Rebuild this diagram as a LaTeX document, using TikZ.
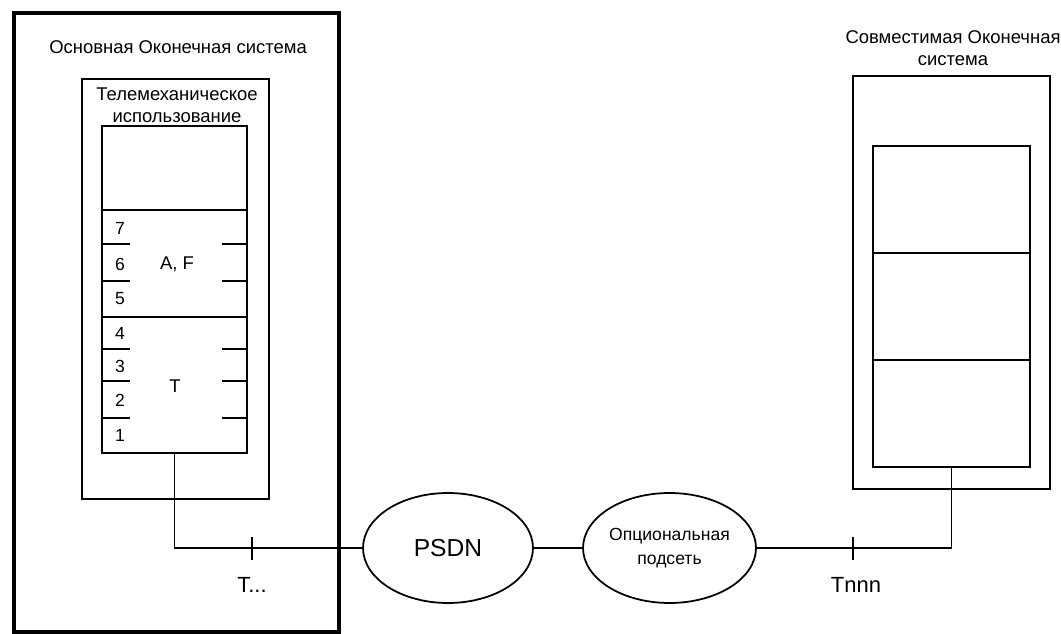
\documentclass[tikz,border=0pt]{standalone}
\usepackage{fontspec}
\setmainfont{Liberation Sans}
\usetikzlibrary{shapes.geometric,positioning,calc}
\tikzset{
  sysbox/.style={
    rectangle,
    draw=black,
    inner sep=0pt,
    outer sep=0pt
  },
  cell/.style={
    rectangle,
    draw=black,
    minimum width=2.9cm,
    inner sep=0pt,
    outer sep=0pt
  },
  net/.style={
    ellipse,
    draw=black,
    inner sep=0pt,
    minimum height=2.2cm
  },
  txt/.style={
    font=\fontsize{10.5}{12.5}\selectfont,
    inner sep=1pt
  },
  num/.style={
    font=\fontsize{10}{12}\selectfont,
    inner sep=1pt
  },
  tlab/.style={
    font=\fontsize{12.5}{14}\selectfont,
    inner sep=1pt
  }
}

\begin{document}
\begin{tikzpicture}[x=0.02cm, y=-0.02cm, line width=1pt]
\useasboundingbox (0,0) rectangle (1061,634);

% --- main end system ---
\node (mainsys) [sysbox, line width=2pt, minimum width=6.5cm, minimum height=12.38cm] at (176.5,322.5) {};
\node (maintitle) [txt] at (178,47) {Основная Оконечная система};
\node (appbox) [sysbox, minimum width=3.74cm, minimum height=8.4cm] at (175.5,289) {};
\node (apptitle) [txt, align=center] at (177,105) {Телемеханическое\\использование};

% --- layer stack ---
\node (appcell) [cell, minimum height=1.68cm] at (174.5,168) {};
\node (afcell) [cell, minimum height=2.14cm, below=0pt of appcell] {};
\node (tcell) [cell, minimum height=2.72cm, below=0pt of afcell] {};
\foreach \n/\y in {7/228,6/264,5/299,4/333,3/366,2/400,1/435}
  \node (layer\n) [num] at (120,\y) {\n};
\foreach \y in {244,281,349,381,418} {
  \draw (102,\y) -- (130,\y);
  \draw (222,\y) -- (247,\y);
}
\node (aflabel) [txt] at (177,264) {A, F};
\node (tlabel) [txt] at (175,386) {T};

% --- networks ---
\node (psdn) [net, minimum width=3.4cm, font=\fontsize{14}{16}\selectfont] at (448,548) {PSDN};
\node (opt) [net, minimum width=3.46cm, align=center, font=\fontsize{10}{13.6}\selectfont] at (669.5,548) {Опциональная\\подсеть};

% --- compatible end system ---
\node (compsys) [sysbox, minimum width=3.94cm, minimum height=8.26cm] at (951.5,282.5) {};
\node (comptitle) [txt, align=center] at (953,48.5) {Совместимая Оконечная\\система};
\node (rcell1) [cell, minimum width=3.14cm, minimum height=2.14cm] at (951.5,199.5) {};
\node (rcell2) [cell, minimum width=3.14cm, minimum height=2.14cm, below=0pt of rcell1] {};
\node (rcell3) [cell, minimum width=3.14cm, minimum height=2.14cm, below=0pt of rcell2] {};

% --- connectors ---
\draw (tcell.south) |- (psdn.west);
\draw (psdn) -- (opt);
\draw (opt.east) -| (rcell3.south);

% --- reference points ---
\coordinate (ptL) at (252,548);
\coordinate (ptR) at (853,548);
\draw ($(ptL)+(0,-11)$) -- ($(ptL)+(0,12)$);
\draw ($(ptR)+(0,-11)$) -- ($(ptR)+(0,12)$);
\node (ptLlabel) [tlab] at (252,585) {T...};
\node (ptRlabel) [tlab] at (856,585) {Tnnn};

\end{tikzpicture}
\end{document}
